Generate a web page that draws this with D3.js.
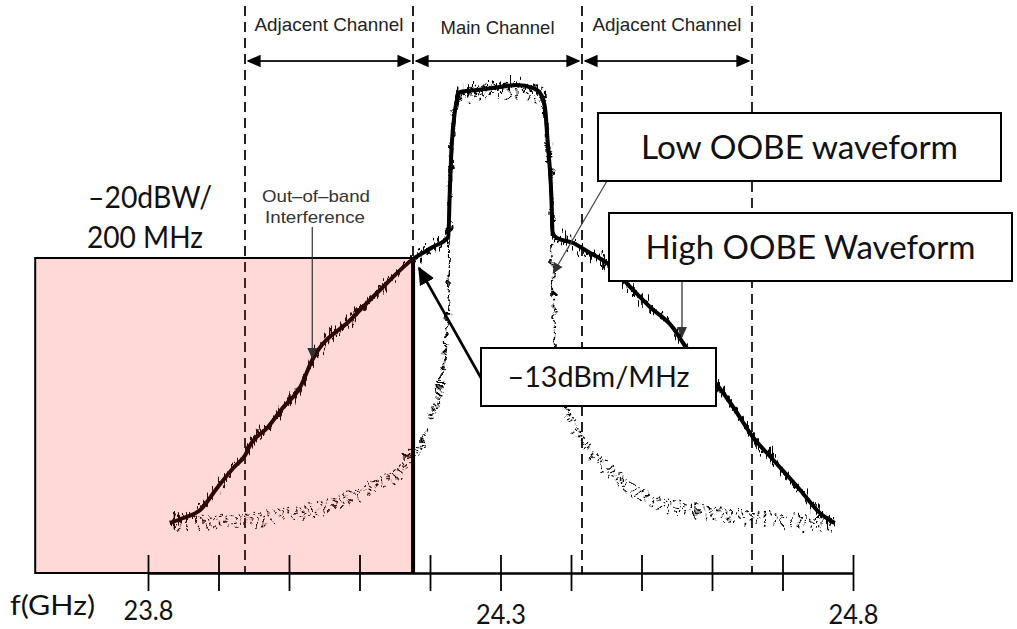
<!DOCTYPE html>
<html>
<head>
<meta charset="utf-8">
<script src="https://cdn.jsdelivr.net/npm/d3@7"></script>
<style>
  body { margin: 0; background: #fff; }
  svg { display: block; }
</style>
</head>
<body>
<svg id="chart" width="1017" height="629"></svg>
<script>
// channel boundaries (GHz) and names
const channelEdges = [23.9376, 24.1759, 24.4156, 24.6567];
const channelNames = ['Adjacent Channel', 'Main Channel', 'Adjacent Channel'];

// x axis
const tickValues = [23.8, 23.9, 24.0, 24.1, 24.2, 24.3, 24.4, 24.5, 24.6, 24.7, 24.8];
const tickLabels = ['23.8', '24.3', '24.8'];

// high OOBE waveform (GHz, relative dB)
const highFreq = [23.831, 23.850, 23.874, 23.898, 23.921, 23.938, 23.945, 23.969, 23.991, 24.016,
  24.033, 24.087, 24.129, 24.176, 24.204, 24.226, 24.228, 24.231, 24.235, 24.243,
  24.267, 24.299, 24.323, 24.346, 24.356, 24.363, 24.367, 24.372, 24.374, 24.380,
  24.403, 24.427, 24.451, 24.484, 24.512, 24.545, 24.559, 24.616, 24.630, 24.658,
  24.687, 24.725, 24.753, 24.774];
const highLevel = [-87.6, -86.6, -85.0, -80.6, -76.6, -74.0, -72.0, -68.6, -64.6, -60.4,
  -55.0, -47.0, -41.0, -34.8, -32.4, -30.4, -21.6, -11.6, -5.6, -1.4,
  -1.0, -0.4, 0.0, -0.6, -1.6, -4.4, -11.6, -21.6, -29.6, -30.6,
  -31.6, -33.6, -35.6, -40.4, -44.4, -48.6, -51.6, -61.6, -64.4, -70.4,
  -75.0, -81.0, -85.6, -87.6];

// low OOBE waveform
const lowFreq = [23.838, 23.850, 23.938, 23.991, 24.040, 24.087, 24.133, 24.162, 24.169, 24.182,
  24.204, 24.214, 24.221, 24.226, 24.227, 24.228, 24.231, 24.235, 24.243, 24.299,
  24.356, 24.363, 24.367, 24.372, 24.373, 24.375, 24.376, 24.380, 24.394, 24.413,
  24.437, 24.474, 24.522, 24.569, 24.616, 24.664, 24.711, 24.772];
const lowLevel = [-87.4, -87.6, -87.0, -86.0, -85.0, -82.4, -79.4, -76.4, -74.4, -73.6,
  -65.6, -61.0, -52.4, -44.4, -32.4, -21.6, -11.6, -5.6, -2.0, -1.4,
  -2.0, -5.0, -11.6, -21.6, -31.0, -43.0, -52.4, -55.0, -65.0, -70.4,
  -75.0, -79.6, -83.6, -85.0, -86.0, -86.6, -87.4, -88.0];

// emission limit block
const limitBand = [23.64, 24.176];
const limitLevel = -34.6;

const W = 1017, H = 629;
const svg = d3.select('#chart');

const x = d3.scaleLinear().domain([23.8, 24.8]).range([148, 853]);
const y = d3.scaleLinear().domain([-97.6, 0]).range([573, 85]);
const baseY = y.range()[0];

const defs = svg.append('defs');

// displacement filters give the traces their measured, noisy look
function noiseFilter(id, freq, octaves, scale, seed, verticalOnly) {
  const f = defs.append('filter').attr('id', id)
    .attr('filterUnits', 'userSpaceOnUse')
    .attr('x', 0).attr('y', 0).attr('width', W).attr('height', H);
  f.append('feTurbulence').attr('type', 'fractalNoise')
    .attr('baseFrequency', freq).attr('numOctaves', octaves).attr('seed', seed).attr('result', 't');
  let src = 't';
  if (verticalOnly) {
    f.append('feColorMatrix').attr('in', 't').attr('type', 'matrix')
      .attr('values', '0 0 0 0 0.5  0 1 0 0 0  0 0 0 0 0  0 0 0 0 1')
      .attr('result', 'tv');
    src = 'tv';
  }
  f.append('feDisplacementMap').attr('in', 'SourceGraphic').attr('in2', src)
    .attr('scale', scale).attr('xChannelSelector', 'R').attr('yChannelSelector', 'G');
}
noiseFilter('jitter', '0.4 0.05', 2, 32, 4, true);
noiseFilter('scatter', '0.12', 1, 14, 9, false);

function arrowMarker(id, size, color) {
  defs.append('marker').attr('id', id)
    .attr('viewBox', '0 0 10 10').attr('refX', 9).attr('refY', 5)
    .attr('markerWidth', size).attr('markerHeight', size)
    .attr('markerUnits', 'userSpaceOnUse')
    .attr('orient', 'auto-start-reverse')
    .append('path').attr('d', 'M0,0.5 L10,5 L0,9.5 Z').attr('fill', color);
}
arrowMarker('head', 14, '#000');
arrowMarker('headSmall', 11, '#333');
arrowMarker('headBig', 18, '#000');

// dashed channel boundaries
svg.append('g').selectAll('line').data(channelEdges).join('line')
  .attr('x1', d => x(d)).attr('x2', d => x(d))
  .attr('y1', 6).attr('y2', baseY)
  .attr('stroke', '#222').attr('stroke-width', 2)
  .attr('stroke-dasharray', '10,6');

// channel headers and span arrows
const spans = d3.pairs(channelEdges);
const headerWidth = [149, 114, 149];
svg.append('g').selectAll('text').data(spans).join('text')
  .attr('x', d => (x(d[0]) + x(d[1])) / 2)
  .attr('y', (d, i) => i === 1 ? 34 : 31)
  .attr('text-anchor', 'middle')
  .attr('font-family', 'Liberation Sans, Arial, sans-serif')
  .attr('font-size', 19)
  .attr('textLength', (d, i) => headerWidth[i])
  .attr('lengthAdjust', 'spacingAndGlyphs')
  .attr('fill', '#222')
  .text((d, i) => channelNames[i]);

svg.append('g').selectAll('line').data(spans).join('line')
  .attr('x1', d => x(d[0]) + 3).attr('x2', d => x(d[1]) - 3)
  .attr('y1', 61).attr('y2', 61)
  .attr('stroke', '#222').attr('stroke-width', 2.2)
  .attr('marker-start', 'url(#head)').attr('marker-end', 'url(#head)');

// traces
const line = (fs, ls) => d3.line()
  .x((d, i) => x(fs[i])).y((d, i) => y(ls[i]))
  .curve(d3.curveMonotoneX)(fs);

// low OOBE: a band of dotted copies, roughened by the scatter filter
const lowPath = line(lowFreq, lowLevel);
const bandOffsets = [-6, -3, 0, 3, 6];
const gLow = svg.append('g').attr('filter', 'url(#scatter)');
gLow.selectAll('path').data(bandOffsets).join('path')
  .attr('d', lowPath)
  .attr('transform', d => `translate(0,${d})`)
  .attr('fill', 'none').attr('stroke', '#000').attr('stroke-width', 2)
  .attr('stroke-dasharray', (d, i) => `1.7,${4 + i}`)
  .attr('stroke-dashoffset', (d, i) => i * 1.7);

const highPath = line(highFreq, highLevel);
svg.append('path')
  .attr('d', highPath)
  .attr('fill', 'none').attr('stroke', '#000').attr('stroke-width', 4)
  .attr('stroke-linejoin', 'round');
svg.append('path')
  .attr('d', highPath)
  .attr('fill', 'none').attr('stroke', '#000').attr('stroke-width', 3.2)
  .attr('stroke-linejoin', 'round')
  .attr('filter', 'url(#jitter)');

// emission limit block, tinted over the traces
const bx0 = x(limitBand[0]), bx1 = x(limitBand[1]), by0 = y(limitLevel);
svg.append('rect')
  .attr('x', bx0).attr('y', by0).attr('width', bx1 - bx0).attr('height', baseY - by0)
  .attr('fill', 'rgb(255,40,40)').attr('fill-opacity', 0.18);
svg.append('path')
  .attr('d', `M${bx1},${by0} H${bx0} V${baseY} H${bx1}`)
  .attr('fill', 'none').attr('stroke', '#000').attr('stroke-width', 2);
svg.append('line')
  .attr('x1', bx1).attr('x2', bx1).attr('y1', by0).attr('y2', baseY)
  .attr('stroke', '#000').attr('stroke-width', 4);

// x axis: ticks cross the axis line
const axis = d3.axisBottom(x)
  .tickValues(tickValues)
  .tickSize(35).tickSizeOuter(0)
  .tickFormat(d => tickLabels.includes(d.toFixed(1)) ? d.toFixed(1) : '');
const gx = svg.append('g').attr('transform', `translate(0,${baseY})`).call(axis);
gx.select('.domain').attr('stroke', '#000').attr('stroke-width', 2.5);
gx.selectAll('.tick line').attr('y1', -18).attr('y2', 18).attr('stroke', '#000').attr('stroke-width', 1.8);
gx.selectAll('.tick text')
  .attr('y', (d, i) => i === 0 ? 47 : 51)
  .attr('dy', 0)
  .attr('font-family', 'Lato, sans-serif').attr('font-size', 26).attr('fill', '#111')
  .attr('textLength', 50).attr('lengthAdjust', 'spacingAndGlyphs');

svg.append('text').attr('x', 10).attr('y', 615)
  .attr('font-family', 'Lato, sans-serif').attr('font-size', 27).attr('fill', '#111')
  .attr('textLength', 85).attr('lengthAdjust', 'spacingAndGlyphs')
  .text('f(GHz)');

// limit label
const bigFont = 'Lato, sans-serif';
svg.append('text').attr('x', 88).attr('y', 208)
  .attr('font-family', bigFont).attr('font-size', 30).attr('fill', '#111')
  .attr('textLength', 124).attr('lengthAdjust', 'spacingAndGlyphs')
  .text('–20dBW/');
svg.append('text').attr('x', 87).attr('y', 248)
  .attr('font-family', bigFont).attr('font-size', 30).attr('fill', '#111')
  .attr('textLength', 116).attr('lengthAdjust', 'spacingAndGlyphs')
  .text('200 MHz');

// out-of-band note
const obX = x(highFreq[10]);
svg.append('text').attr('x', 316).attr('y', 202).attr('text-anchor', 'middle')
  .attr('font-family', 'Liberation Sans, Arial, sans-serif').attr('font-size', 17).attr('fill', '#333')
  .attr('textLength', 108).attr('lengthAdjust', 'spacingAndGlyphs')
  .text('Out–of–band');
svg.append('text').attr('x', 315).attr('y', 223).attr('text-anchor', 'middle')
  .attr('font-family', 'Liberation Sans, Arial, sans-serif').attr('font-size', 17).attr('fill', '#333')
  .attr('textLength', 100).attr('lengthAdjust', 'spacingAndGlyphs')
  .text('Interference');
svg.append('line')
  .attr('x1', obX).attr('x2', obX).attr('y1', 227).attr('y2', y(highLevel[10]) - 2)
  .attr('stroke', '#333').attr('stroke-width', 1.2)
  .attr('marker-end', 'url(#headSmall)');

// callout boxes
function callout(bx, by, bw, bh, label, size, tl, pointer, marker, pw, pc) {
  svg.append('line')
    .attr('x1', pointer[0]).attr('y1', pointer[1]).attr('x2', pointer[2]).attr('y2', pointer[3])
    .attr('stroke', pc).attr('stroke-width', pw)
    .attr('marker-end', `url(#${marker})`);
  svg.append('rect').attr('x', bx).attr('y', by).attr('width', bw).attr('height', bh)
    .attr('fill', '#fff').attr('stroke', '#000').attr('stroke-width', 2);
  svg.append('text').attr('x', bx + bw / 2).attr('y', by + bh / 2 + size * 0.36)
    .attr('text-anchor', 'middle')
    .attr('font-family', bigFont).attr('font-size', size).attr('fill', '#111')
    .attr('textLength', tl).attr('lengthAdjust', 'spacingAndGlyphs')
    .text(label);
}

callout(598, 113, 403, 68, 'Low OOBE waveform', 33, 317,
  [607, 181, x(lowFreq[23]) + 2, 273], 'headSmall', 1.2, '#444');
callout(609, 213, 403, 68, 'High OOBE Waveform', 33, 330,
  [682, 281, 682, 337], 'headSmall', 1.4, '#444');
callout(481, 348, 235, 58, '–13dBm/MHz', 29, 182,
  [481, 378, bx1 + 6, by0 + 10], 'headBig', 2.6, '#000');
</script>
</body>
</html>
